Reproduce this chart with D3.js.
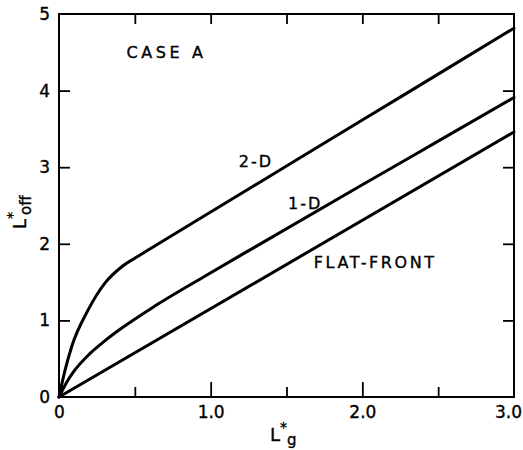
<!DOCTYPE html>
<html>
<head>
<meta charset="utf-8">
<script src="https://cdn.jsdelivr.net/npm/d3@7"></script>
<style>
  html, body { margin: 0; padding: 0; background: #fff; }
  svg { display: block; }
  text { font-family: "DejaVu Sans", sans-serif; fill: #000; stroke: #000; stroke-width: 0.35px; }
</style>
</head>
<body>
<svg id="chart" width="523" height="450"></svg>
<script>
// ---- data ----
const lg2D = [0, 0.04, 0.084, 0.193, 0.304, 0.414, 0.524, 0.634, 1.0, 1.5, 2.0, 2.5, 3.0];
const loff2D = [0, 0.35, 0.66, 1.14, 1.49, 1.70, 1.84, 1.975, 2.415, 3.015, 3.615, 4.215, 4.815];
const lg1D = [0, 0.05, 0.1, 0.2, 0.3, 0.414, 0.634, 0.964, 1.294, 2.0, 2.5, 3.0];
const loff1D = [0, 0.19, 0.34, 0.56, 0.73, 0.90, 1.19, 1.58, 1.96, 2.77, 3.34, 3.91];
const lgFlat = [0, 3.0];
const loffFlat = [0, 3.46];
const xMajorTicks = [0, 1.0, 2.0, 3.0];
const xMinorTicks = [0.5, 1.5, 2.5];
const xTickLabels = ["0", "1.0", "2.0", "3.0"];
const yTicks = [0, 1, 2, 3, 4, 5];
const yTickLabels = ["0", "1", "2", "3", "4", "5"];
const seriesLabels = ["2-D", "1-D", "FLAT-FRONT"];
const caseLabel = "CASE A";

const svg = d3.select("#chart");
const x = d3.scaleLinear().domain([0, 3]).range([59, 514]);
const y = d3.scaleLinear().domain([0, 5]).range([397, 14]);

// frame
svg.append("rect")
  .attr("x", x(0)).attr("y", y(5))
  .attr("width", x(3) - x(0)).attr("height", y(0) - y(5))
  .attr("fill", "none").attr("stroke", "#000").attr("stroke-width", 2);

function styleAxis(g) {
  g.select(".domain").remove();
  g.selectAll(".tick line").attr("stroke", "#000").attr("stroke-width", 1.8);
  g.selectAll(".tick text").style("font-size", "17px").attr("fill", "#000");
}

// bottom axis: major ticks with labels
const gxb = svg.append("g").attr("transform", `translate(0,${y(0)})`)
  .call(d3.axisBottom(x).tickValues(xMajorTicks).tickSizeInner(-15).tickSizeOuter(0).tickPadding(6)
    .tickFormat((d, i) => xTickLabels[i]));
styleAxis(gxb);
gxb.selectAll(".tick text").attr("dy", "0.9em");
gxb.selectAll(".tick").filter(d => d === 3).select("text").attr("dx", "-6");
gxb.selectAll(".tick").filter(d => d === 0).select("line").remove();
gxb.selectAll(".tick").filter(d => d === 3).select("line").remove();
// bottom minor
const gxbm = svg.append("g").attr("transform", `translate(0,${y(0)})`)
  .call(d3.axisBottom(x).tickValues(xMinorTicks).tickSizeInner(-10).tickSizeOuter(0).tickFormat(""));
styleAxis(gxbm);
// top ticks
const gxt = svg.append("g").attr("transform", `translate(0,${y(5)})`)
  .call(d3.axisTop(x).tickValues([0.5, 1.0, 1.5, 2.0, 2.5]).tickSizeInner(-10).tickSizeOuter(0).tickFormat(""));
styleAxis(gxt);

// left axis
const gyl = svg.append("g").attr("transform", `translate(${x(0)},0)`)
  .call(d3.axisLeft(y).tickValues(yTicks).tickSizeInner(-11).tickSizeOuter(0).tickPadding(9)
    .tickFormat((d, i) => yTickLabels[i]));
styleAxis(gyl);
gyl.selectAll(".tick").filter(d => d === 0 || d === 5).select("line").remove();
// right axis
const gyr = svg.append("g").attr("transform", `translate(${x(3)},0)`)
  .call(d3.axisRight(y).tickValues([1, 2, 3, 4]).tickSizeInner(-11).tickSizeOuter(0).tickFormat(""));
styleAxis(gyr);

// curves
const line = d3.line().x(d => x(d[0])).y(d => y(d[1])).curve(d3.curveMonotoneX);
const series = [
  d3.zip(lg2D, loff2D),
  d3.zip(lg1D, loff1D),
  d3.zip(lgFlat, loffFlat)
];
svg.append("g").selectAll("path").data(series).join("path")
  .attr("d", line)
  .attr("fill", "none").attr("stroke", "#000").attr("stroke-width", 3)
  .attr("stroke-linejoin", "round").attr("stroke-linecap", "round");

// series labels
const labelPos = [[1.185, 3.0], [1.51, 2.45], [1.68, 1.68]];
svg.append("g").selectAll("text").data(seriesLabels).join("text")
  .attr("x", (d, i) => x(labelPos[i][0]))
  .attr("y", (d, i) => y(labelPos[i][1]))
  .style("font-size", "16px").style("letter-spacing", (d, i) => i === 2 ? "2.6px" : "2px")
  .text(d => d);

// case label
svg.append("text").attr("x", x(0.445)).attr("y", y(4.43))
  .style("font-size", "16px").style("letter-spacing", "3.6px")
  .text(caseLabel);

// x axis title L*g
const xt = svg.append("text").attr("x", 270).attr("y", 441).style("font-size", "18px");
xt.append("tspan").text("L");
xt.append("tspan").attr("dy", -9).style("font-size", "14px").text("*");
xt.append("tspan").attr("dx", 0).attr("dy", 13).style("font-size", "15px").text("g");

// y axis title L*off
const yt = svg.append("text").attr("transform", "translate(26,229) rotate(-90)").style("font-size", "18px");
yt.append("tspan").text("L");
yt.append("tspan").attr("dy", -9).style("font-size", "14px").text("*");
yt.append("tspan").attr("dx", -3).attr("dy", 14).style("font-size", "15px").text("off");
</script>
</body>
</html>
